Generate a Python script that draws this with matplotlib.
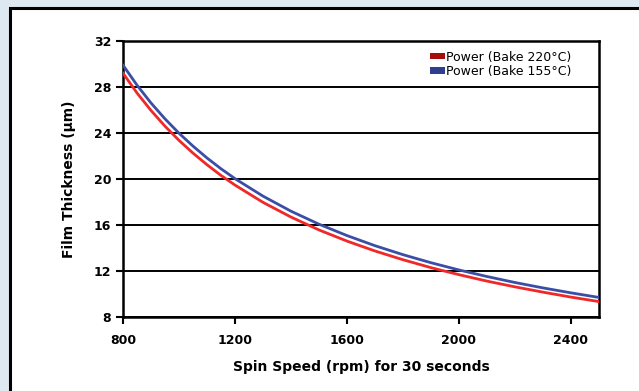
import matplotlib
matplotlib.use("Agg")
import matplotlib.pyplot as plt
from matplotlib.patches import Rectangle, Patch

plt.rcParams.update({"font.family": ["DejaVu Sans"], "font.size": 9})

# spin speed (rpm) and film thickness (um)
speed = [800, 850, 900, 950, 1000, 1050, 1100, 1150, 1200, 1300, 1400,
         1500, 1600, 1700, 1800, 1900, 2000, 2100, 2200, 2300, 2400, 2500]
bake_220 = [29.2, 27.48, 25.96, 24.59, 23.36, 22.25, 21.24, 20.31, 19.47,
            17.97, 16.69, 15.57, 14.6, 13.74, 12.98, 12.29, 11.68, 11.12,
            10.62, 10.16, 9.73, 9.34]
bake_155 = [29.9, 28.16, 26.61, 25.23, 23.98, 22.86, 21.83, 20.89, 20.03,
            18.51, 17.20, 16.07, 15.08, 14.20, 13.42, 12.72, 12.09, 11.52,
            11.00, 10.53, 10.10, 9.70]
xticks = [800, 1200, 1600, 2000, 2400]
yticks = [8, 12, 16, 20, 24, 28, 32]

W, H = 639, 391
fig = plt.figure(figsize=(W / 100, H / 100), dpi=100)
fig.patch.set_facecolor("#dde8f1")

# white panel with black frame (runs off right/bottom edge)
fig.add_artist(Rectangle((10 / W, -0.05), 1.1, 1 - 8 / H + 0.05,
                         transform=fig.transFigure, facecolor="white",
                         edgecolor="black", lw=2.2, zorder=0))

ax = fig.add_axes([123 / W, 1 - 317 / H, 476 / W, 276 / H])
ax.set_facecolor("white")
ax.plot(speed, bake_220, color="#f02828", lw=2.0, zorder=3)
ax.plot(speed, bake_155, color="#3a4ea6", lw=2.0, zorder=3)

ax.set_xlim(800, 2500)
ax.set_ylim(8, 32)
ax.set_xticks(xticks)
ax.set_yticks(yticks)
ax.grid(axis="y", color="black", lw=1.4)
ax.set_axisbelow(True)
for sp in ax.spines.values():
    sp.set_linewidth(1.8)
ax.tick_params(direction="out", length=5, width=1.5, labelsize=9)
ax.tick_params(axis="x", pad=7.5)
ax.tick_params(axis="y", pad=3.5)
for lab in ax.get_xticklabels() + ax.get_yticklabels():
    lab.set_fontweight("bold")

ax.set_xlabel("Spin Speed (rpm) for 30 seconds", fontweight="bold",
              fontsize=10, labelpad=9)
ax.set_ylabel("Film Thickness (µm)", fontweight="bold", fontsize=10,
              labelpad=13)

handles = [Patch(facecolor="#a50d0d", edgecolor="none"),
           Patch(facecolor="#2e3f8f", edgecolor="none")]
ax.legend(handles, ["Power (Bake 220°C)", "Power (Bake 155°C)"],
          loc="upper right", bbox_to_anchor=(0.942, 0.965), frameon=False,
          fontsize=9, handlelength=1.2, handleheight=0.4,
          handletextpad=0.05, labelspacing=0.1, borderpad=0,
          borderaxespad=0)

fig.savefig("out.png", dpi=100, facecolor=fig.get_facecolor())
